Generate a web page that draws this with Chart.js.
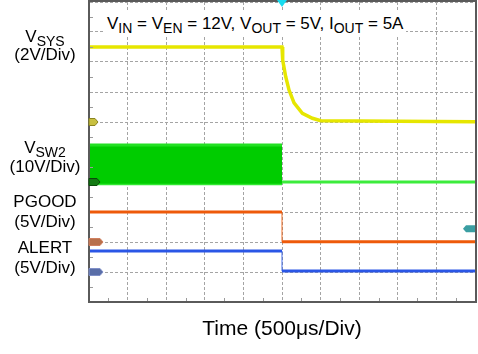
<!DOCTYPE html>
<html>
<head>
<meta charset="utf-8">
<script src="https://cdn.jsdelivr.net/npm/chart.js@4.4.1/dist/chart.umd.min.js"></script>
<style>
  body { margin:0; background:#fff; }
  #wrap { position:relative; width:478px; height:354px; font-family:"Liberation Sans", Arial, sans-serif; color:#000; }
  #scope { position:absolute; left:0; top:0; }
  .lbl { position:absolute; white-space:nowrap; line-height:20px; font-size:17px; }
  .lbl sub { font-size:14px; vertical-align:-4px; line-height:0; }
  .side { left:0; width:90px; text-align:center; }
</style>
</head>
<body>
<div id="wrap">
  <canvas id="scope" width="478" height="354"></canvas>
  <div class="lbl" id="cond" style="left:104px; top:12px; padding:2px 3px; background:#fff;">V<sub>IN</sub> = V<sub>EN</sub> = 12V, V<sub>OUT</sub> = 5V, I<sub>OUT</sub> = 5A</div>
  <div class="lbl side" style="top:27px">V<sub>SYS</sub></div>
  <div class="lbl side" style="top:45px">(2V/Div)</div>
  <div class="lbl side" style="top:138px">V<sub>SW2</sub></div>
  <div class="lbl side" style="top:157px">(10V/Div)</div>
  <div class="lbl side" style="top:192px">PGOOD</div>
  <div class="lbl side" style="top:212px">(5V/Div)</div>
  <div class="lbl side" style="top:238px">ALERT</div>
  <div class="lbl side" style="top:258px">(5V/Div)</div>
  <div class="lbl" style="left:89px; width:386px; top:316px; line-height:24px; font-size:21px; text-align:center;">Time (500μs/Div)</div>
</div>
<script>
// channel setup: ground level (div) and volts per div
const chOffset = [6, 4, 2, 1];
const chVoltsDiv = [2, 10, 5, 5];

// time in us, trigger at 0
const vsysTime = [-2500, 0, 9, 48, 91, 156, 264, 394, 502, 2500];
const vsysVolt = [5.0, 5.0, 4.13, 3.02, 2.13, 1.27, 0.58, 0.25, 0.09, 0.02];

const sw2BandTime = [-2500, 0];
const sw2High = [12.3, 12.3];
const sw2Low = [-0.6, -0.6];
const sw2Time = [0, 2500];
const sw2Volt = [0, 0];

const pgoodTime = [-2500, 0, 0, 2500];
const pgoodVolt = [5.0, 5.0, 0.05, 0.05];

const alertTime = [-2500, 0, 0, 2500];
const alertVolt = [3.5, 3.5, 0.15, 0.15];

const trigLevel = 2.2; // PGOOD trigger, V

function pts(ch, t, v) {
  return t.map((x, i) => ({ x: x, y: chOffset[ch] + v[i] / chVoltsDiv[ch] }));
}

const faintEdge = (col) => ({
  borderColor: c => c.p0.parsed.x === c.p1.parsed.x ? col : undefined,
  borderWidth: c => c.p0.parsed.x === c.p1.parsed.x ? 1 : undefined
});

const scopeDeco = {
  id: 'scopeDeco',
  afterDatasetsDraw(chart) {
    const { ctx, chartArea: a, scales: { x, y } } = chart;
    ctx.save();
    // minor ticks at half divisions on left and bottom
    ctx.strokeStyle = '#9a9a9a';
    ctx.lineWidth = 1;
    for (let d = 0.5; d < 10; d += 1) {
      const py = Math.round(y.getPixelForValue(d)) + 0.5;
      ctx.beginPath(); ctx.moveTo(a.left, py); ctx.lineTo(a.left + 4, py); ctx.stroke();
      const px = Math.round(x.getPixelForValue(-2500 + d * 500)) + 0.5;
      ctx.beginPath(); ctx.moveTo(px, a.bottom); ctx.lineTo(px, a.bottom - 4); ctx.stroke();
    }
    // frame
    ctx.strokeStyle = '#5a5a5a';
    ctx.lineWidth = 2;
    ctx.strokeRect(a.left, a.top - 1, a.right - a.left + 1, a.bottom - a.top + 1);
    // channel ground markers
    const tags = [
      { fill: '#c8c040', edge: '#8a8420', w: 9 },
      { fill: '#127a12', edge: '#0a4a0a', w: 11 },
      { fill: '#b8704c', edge: '#d08060', w: 14 },
      { fill: '#5a6ea8', edge: '#8090c8', w: 14 }
    ];
    tags.forEach((t, i) => {
      const py = y.getPixelForValue(chOffset[i]);
      ctx.beginPath();
      ctx.moveTo(a.left, py - 3.5);
      ctx.lineTo(a.left + t.w - 3, py - 3.5);
      ctx.lineTo(a.left + t.w, py);
      ctx.lineTo(a.left + t.w - 3, py + 3.5);
      ctx.lineTo(a.left, py + 3.5);
      ctx.closePath();
      ctx.fillStyle = t.fill; ctx.fill();
      ctx.lineWidth = 1; ctx.strokeStyle = t.edge; ctx.stroke();
    });
    // trigger level marker on the right
    const ty = y.getPixelForValue(chOffset[2] + trigLevel / chVoltsDiv[2]);
    ctx.beginPath();
    ctx.moveTo(a.right, ty - 3.5);
    ctx.lineTo(a.right - 9, ty - 3.5);
    ctx.lineTo(a.right - 12, ty);
    ctx.lineTo(a.right - 9, ty + 3.5);
    ctx.lineTo(a.right, ty + 3.5);
    ctx.closePath();
    ctx.fillStyle = '#3a9ea2'; ctx.fill();
    // trigger time marker on top
    const tx = x.getPixelForValue(0);
    ctx.beginPath();
    ctx.moveTo(tx - 5, 0); ctx.lineTo(tx + 5, 0); ctx.lineTo(tx, 7);
    ctx.closePath();
    ctx.fillStyle = '#18dcf0'; ctx.fill();
    ctx.restore();
  }
};

new Chart(document.getElementById('scope'), {
  type: 'line',
  data: {
    datasets: [
      { data: pts(0, vsysTime, vsysVolt), borderColor: '#e6e600', borderWidth: 3.5 },
      { data: pts(1, sw2BandTime, sw2High), borderColor: '#22e022', borderWidth: 3, fill: '+1', backgroundColor: '#00cc00' },
      { data: pts(1, sw2BandTime, sw2Low), borderColor: '#30e830', borderWidth: 3 },
      { data: pts(1, sw2Time, sw2Volt), borderColor: '#3cec3c', borderWidth: 3 },
      { data: pts(2, pgoodTime, pgoodVolt), borderColor: '#ee5a0a', borderWidth: 3, segment: faintEdge('rgba(238,90,10,0.35)') },
      { data: pts(3, alertTime, alertVolt), borderColor: '#2a56e6', borderWidth: 3, segment: faintEdge('rgba(42,86,230,0.35)') }
    ]
  },
  options: {
    responsive: false,
    animation: false,
    devicePixelRatio: 1,
    layout: { padding: { left: 89, top: 2, right: 3, bottom: 52 } },
    plugins: { legend: { display: false }, tooltip: { enabled: false } },
    elements: { point: { radius: 0 }, line: { tension: 0, borderJoinStyle: 'miter' } },
    scales: {
      x: {
        type: 'linear', min: -2500, max: 2500,
        ticks: { display: false, stepSize: 500 },
        grid: { color: '#a4a4a4', lineWidth: 1, drawTicks: false },
        border: { display: true, color: '#5a5a5a', dash: [3, 2] }
      },
      y: {
        type: 'linear', min: 0, max: 10,
        ticks: { display: false, stepSize: 1 },
        grid: { color: '#a4a4a4', lineWidth: 1, drawTicks: false },
        border: { display: true, color: '#5a5a5a', dash: [3, 2] }
      }
    }
  },
  plugins: [scopeDeco]
});
</script>
</body>
</html>
